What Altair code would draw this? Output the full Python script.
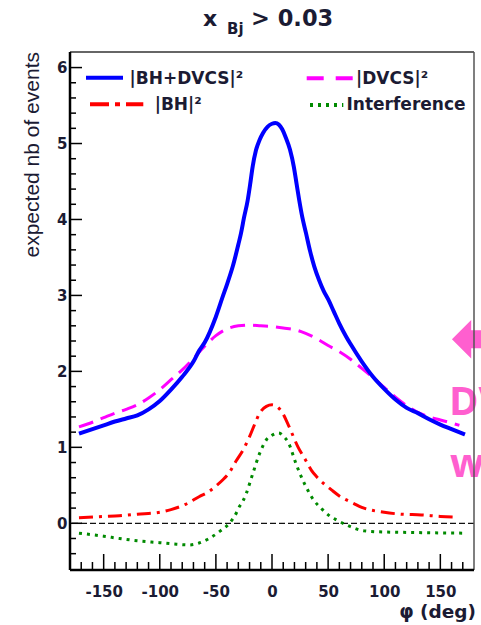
import altair as alt
import pandas as pd

# ---- curves: expected number of events vs phi (deg) ----
phi_total = [-172, -160, -150, -140, -130, -120, -110, -100, -90, -80, -70, -65, -60, -50, -44,
             -40, -35, -30, -27.6, -25, -21.7, -19.5, -17.3, -14.3, -11, -8, -4, 0, 3, 6, 9, 12,
             16, 19.5, 22, 24.3, 27, 30.3, 34, 37.7, 42, 46, 50, 55, 60, 66, 70, 80, 90, 100,
             110, 120, 130, 140, 150, 160, 172]
n_total = [1.18, 1.24, 1.29, 1.34, 1.38, 1.42, 1.50, 1.61, 1.76, 1.93, 2.13, 2.27, 2.38, 2.72, 2.98,
           3.15, 3.38, 3.67, 3.82, 4.02, 4.25, 4.46, 4.69, 4.91, 5.05, 5.14, 5.22, 5.26, 5.27, 5.25,
           5.19, 5.09, 4.92, 4.69, 4.46, 4.25, 4.03, 3.82, 3.58, 3.38, 3.20, 3.06, 2.95, 2.79, 2.63,
           2.46, 2.36, 2.13, 1.93, 1.77, 1.63, 1.52, 1.45, 1.37, 1.30, 1.24, 1.17]

phi_dvcs = [-172, -160, -150, -140, -130, -120, -110, -100, -90, -80, -70, -60, -50, -40, -30,
            -20, -10, 0, 10, 20, 30, 40, 50, 60, 70, 80, 90, 100, 110, 120, 130, 140, 150, 160, 167]
n_dvcs = [1.27, 1.33, 1.39, 1.45, 1.50, 1.56, 1.65, 1.76, 1.89, 2.02, 2.17, 2.33, 2.47, 2.56, 2.60,
          2.61, 2.60, 2.59, 2.57, 2.55, 2.50, 2.43, 2.34, 2.26, 2.16, 2.04, 1.92, 1.79, 1.66, 1.55,
          1.46, 1.40, 1.36, 1.32, 1.29]

phi_bh = [-172, -150, -136, -120, -100, -90, -77, -65, -56, -50, -44, -38, -32, -26, -20, -15, -11,
          -5, 0, 5, 9.5, 15, 23, 30, 35, 40, 48, 53, 60, 73, 80, 100, 115, 133, 150, 166]
n_bh = [0.074, 0.09, 0.10, 0.12, 0.145, 0.18, 0.25, 0.35, 0.42, 0.49, 0.57, 0.67, 0.82, 0.96, 1.14,
        1.32, 1.45, 1.54, 1.56, 1.53, 1.45, 1.28, 1.01, 0.83, 0.70, 0.61, 0.50, 0.44, 0.36, 0.26,
        0.21, 0.145, 0.12, 0.11, 0.09, 0.08]

phi_int = [-172, -150, -136, -120, -100, -85, -74, -65, -56, -46, -38, -32, -29, -26, -23, -17, -11,
           -5, 0, 6, 10, 15, 21, 25, 29, 36, 45, 52, 58, 70, 82, 100, 120, 140, 171]
n_int = [-0.13, -0.17, -0.20, -0.23, -0.255, -0.275, -0.285, -0.26, -0.20, -0.10, 0.0, 0.13, 0.22,
         0.29, 0.39, 0.66, 0.92, 1.10, 1.16, 1.19, 1.15, 1.05, 0.80, 0.65, 0.52, 0.33, 0.18, 0.09,
         0.04, -0.045, -0.10, -0.115, -0.12, -0.125, -0.13]

# ---- axis ticks and labels ----
x_labels = [-150, -100, -50, 0, 50, 100, 150]
x_minor = [v for v in range(-170, 180, 10) if v % 50 != 0]
y_labels = [0, 1, 2, 3, 4, 5, 6]
y_minor = [round(-0.4 + 0.2 * i, 1) for i in range(33) if round((-0.4 + 0.2 * i) % 1, 1) not in (0.0, 1.0)]

W, H = 404, 518
BOLD = "DejaVu Sans"
INK = "#1b1b33"
PINK = "#ff5fcf"

xscale = alt.Scale(domain=[-180, 180], nice=False, zero=False)
yscale = alt.Scale(domain=[-0.615, 6.205], nice=False, zero=False)
xaxis = alt.Axis(values=x_labels, title=None, ticks=False, tickSize=0, domain=False, grid=False,
                 labelFont=BOLD, labelFontSize=15, labelFontWeight="bold", labelColor=INK,
                 labelPadding=14, labelFlush=False, labelOverlap=False,
                 labelExpr="'' + datum.value")
yaxis = alt.Axis(values=y_labels, title=None, ticks=False, tickSize=0, domain=False, grid=False,
                 labelFont=BOLD, labelFontSize=15, labelFontWeight="bold", labelColor=INK,
                 labelPadding=3, labelFlush=False, labelOverlap=False)


def X(field):
    return alt.X(f"{field}:Q", scale=xscale, axis=xaxis)


def Y(field):
    return alt.Y(f"{field}:Q", scale=yscale, axis=yaxis)


def curve(phis, vals, color, width, dash=None):
    props = dict(color=color, strokeWidth=width, interpolate="monotone", strokeCap="butt",
                 strokeJoin="round")
    if dash:
        props["strokeDash"] = dash
    df = pd.DataFrame({"phi": phis, "n": vals})
    return alt.Chart(df).mark_line(**props).encode(x=X("phi"), y=Y("n"))


one = pd.DataFrame({"k": [0]})


def label(text, x, y, size, color=INK, font=BOLD, weight="bold", align="left", angle=0,
          baseline="alphabetic"):
    return alt.Chart(one).mark_text(
        text=text, font=font, fontSize=size, fontWeight=weight, color=color, align=align,
        angle=angle, baseline=baseline
    ).encode(x=alt.value(x), y=alt.value(y))


def seg(x, x2, y, color, width, dash=None, y2=None):
    props = dict(color=color, strokeWidth=width, strokeCap="butt")
    if dash:
        props["strokeDash"] = dash
    enc = dict(x=alt.value(x), y=alt.value(y))
    if x2 is not None:
        enc["x2"] = alt.value(x2)
    if y2 is not None:
        enc["y2"] = alt.value(y2)
    return alt.Chart(one).mark_rule(**props).encode(**enc)


zero_line = alt.Chart(pd.DataFrame({"n": [0]})).mark_rule(
    color="#111", strokeWidth=1.2, strokeDash=[6, 3]
).encode(y=Y("n"))

curves = [
    curve(phi_dvcs, n_dvcs, "#ff00ff", 3, [15, 8]),
    curve(phi_total, n_total, "#0000ff", 4),
    curve(phi_bh, n_bh, "#ff0000", 3, [14, 6, 3, 6]),
    curve(phi_int, n_int, "#008a00", 3, [3, 5]),
]

tick = dict(color="black", strokeWidth=1.5)
ticks = [
    alt.Chart(pd.DataFrame({"t": x_labels})).mark_rule(**tick).encode(
        x=X("t"), y=alt.value(H), y2=alt.value(H - 16)),
    alt.Chart(pd.DataFrame({"t": x_minor})).mark_rule(**tick).encode(
        x=X("t"), y=alt.value(H), y2=alt.value(H - 8)),
    alt.Chart(pd.DataFrame({"t": y_labels})).mark_rule(**tick).encode(
        y=Y("t"), x=alt.value(0), x2=alt.value(12)),
    alt.Chart(pd.DataFrame({"t": y_minor})).mark_rule(**tick).encode(
        y=Y("t"), x=alt.value(0), x2=alt.value(6)),
]

frame = [
    seg(0, W, 0, "#333", 1.5),
    seg(W, None, 0, "#555", 1.5, y2=H),
    seg(0, W, H, "black", 2.5),
    seg(0, None, 0, "black", 2.5, y2=H),
]

legend = [
    seg(16, 53, 25.8, "#0000ff", 4),
    label("|BH+DVCS|²", 59.5, 32, 17),
    seg(236.7, 283.3, 26.3, "#ff00ff", 4, [17, 12]),
    label("|DVCS|²", 286, 32, 17),
    seg(20, 73.3, 52.3, "#ff0000", 4, [19, 6, 5, 6]),
    label("|BH|²", 84.7, 58, 17),
    seg(240, 273.3, 53, "#008a00", 4, [3, 5]),
    label("Interference", 276.5, 58, 17),
]

texts = [
    label("x", 133, -26, 22),
    label("Bj", 157, -18, 15),
    label("> 0.03", 181, -26, 22.5),
    label("expected nb of events", -31.4, 0, 21, font="Liberation Sans", weight="normal",
          align="right", angle=270),
    label("φ (deg)", 406, 566, 18.5, align="right"),
    label("⬅", 380, 288, 72, color=PINK, baseline="middle"),
    label("DVCS", 379, 363, 40, color=PINK, font="Open Sans"),
    label("w", 380, 425, 40, color=PINK, font="Open Sans"),
]

chart = alt.layer(
    zero_line, *curves, *ticks, *legend, *texts, *frame
).properties(
    width=W, height=H,
    padding={"left": 70, "top": 52, "right": 7, "bottom": 55},
    autosize=alt.AutoSizeParams(type="none"),
    background="white",
).configure_view(stroke=None)

chart.save("out.html", embed_options={"renderer": "svg", "actions": False})
